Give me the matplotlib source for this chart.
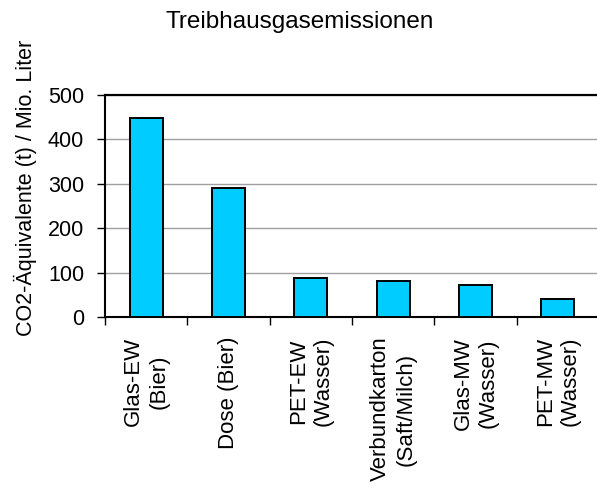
import matplotlib
matplotlib.use("Agg")
import matplotlib.pyplot as plt
import numpy as np

categories = ["Glas-EW\n(Bier)", "Dose (Bier)", "PET-EW\n(Wasser)",
              "Verbundkarton\n(Saft/Milch)", "Glas-MW\n(Wasser)", "PET-MW\n(Wasser)"]
values = [448, 290, 89, 81, 72, 42]
yticks = [0, 100, 200, 300, 400, 500]
title = "Treibhausgasemissionen"
ylabel = "CO2-Äquivalente (t) / Mio. Liter"

plt.rcParams['font.family'] = ['Liberation Sans', 'DejaVu Sans']

W, H = 597, 488
fig = plt.figure(figsize=(W / 100, H / 100), dpi=100)
ax = fig.add_axes([105 / W, (H - 317.3) / H, (599 - 105) / W, 222.3 / H])

x = np.arange(len(values))
ax.bar(x, values, width=0.4, color="#00CCFF", edgecolor="black", linewidth=1.4, zorder=3)

ax.set_xlim(-0.5, len(values) - 0.5)
ax.set_ylim(0, 500)
ax.set_yticks(yticks)
ax.set_yticklabels([str(v) for v in yticks], fontsize=15.5)
ax.yaxis.grid(True, color="#a0a0a0", linewidth=1.0, zorder=0)
ax.set_axisbelow(True)

ax.set_xticks(x)
ax.set_xticklabels(categories, rotation=90, fontsize=16, va="top", ha="center",
                   multialignment="center", linespacing=1.25)
ax.set_xticks(np.arange(len(values) + 1) - 0.5, minor=True)
ax.tick_params(axis="x", which="major", length=0, pad=14)
ax.tick_params(axis="x", which="minor", length=5.5, width=1.0, color="black", direction="out")
ax.tick_params(axis="y", length=6, width=1.0, pad=9, direction="out")

for s in ["left", "bottom", "top"]:
    ax.spines[s].set_visible(True)
    ax.spines[s].set_linewidth(1.5)
    ax.spines[s].set_color("black")
ax.spines["right"].set_visible(False)
ax.axhline(500, color="black", linewidth=1.5, clip_on=False, zorder=4)

fig.text(300 / W, 1 - 22 / H, title, fontsize=17.5, ha="center", va="center")
fig.text(25 / W, 1 - 188 / H, ylabel, fontsize=15.5, rotation=90, ha="center", va="center")

fig.savefig("out.png", dpi=100)
